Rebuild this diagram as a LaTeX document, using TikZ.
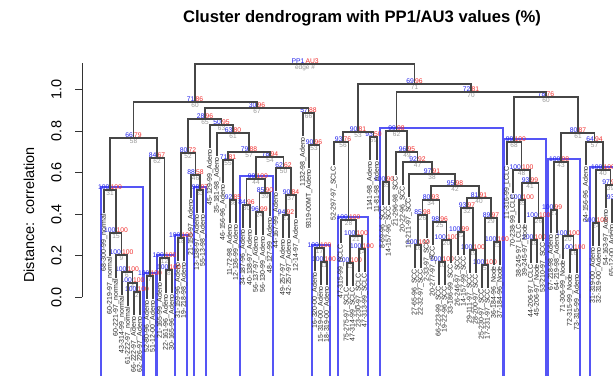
\documentclass[tikz,border=0pt]{standalone}
\usepackage{fontspec}
\setmainfont{Liberation Sans}
\definecolor{pvblue}{RGB}{85,85,245}
\definecolor{ppblue}{RGB}{30,30,235}
\definecolor{aured}{RGB}{240,45,45}
\definecolor{edgegray}{RGB}{150,150,150}
\definecolor{branchgray}{RGB}{70,70,70}
\tikzset{
  branch/.style={draw=branchgray, line width=1.1bp},
  pvbox/.style={draw=pvblue, line width=1.2bp},
  ppnum/.style={text=ppblue, font=\fontsize{6.8}{7}\selectfont, inner sep=0.3bp, anchor=south east},
  aunum/.style={text=aured, font=\fontsize{6.8}{7}\selectfont, inner sep=0.3bp, anchor=south west},
  edgenum/.style={text=edgegray, font=\fontsize{6.5}{7}\selectfont, inner sep=0.6bp, anchor=north},
  leaflabel/.style={rotate=90, anchor=east, inner sep=1bp, text=black!85, font=\fontsize{7}{7}\selectfont},
  ticklabel/.style={rotate=90, anchor=south, inner sep=0pt, font=\fontsize{14.5}{15}\selectfont},
}
\begin{document}
\begin{tikzpicture}[x=1bp, y=-1bp]
\clip (0,0) rectangle (613,375);

\node[font=\bfseries\fontsize{16.7}{17}\selectfont] (title) at (362,18) {Cluster dendrogram with PP1/AU3 values (\%)};

% axis, distance 0.0 at y=297, 1.0 at y=89.5
\draw[black!80, line width=0.8bp] (82,297) -- (82,63);
\foreach \v/\t in {297/0.0, 255.5/0.2, 214/0.4, 172.5/0.6, 131/0.8, 89.5/1.0}
  \draw[black!80, line width=0.8bp] (82,\v) -- (75,\v) node[ticklabel, black] at (62,\v) {\t};
\node[rotate=90, font=\fontsize{14.5}{15}\selectfont] (ylab) at (29,215) {Distance:\ \ correlation};

% clusters with high values
\foreach \xa/\xb/\yt in {101/143/187, 144/156/273, 157/175/255, 175/187/235, 194/206/187,
    240/273/176, 312/330/245, 338/368/217, 380/503/128, 504/546/139, 548/580/159, 590/640/167}
  \draw[pvbox] (\xa,\yt) rectangle (\xb,400);

% merge points: name/x/y/pp/au/edge
\foreach \n/\x/\y/\p/\a/\e in {root/305/64/PP1/AU3/edge \#,
    L1/195/102/71/86/60, A/133.5/138/66/79/58, A1/110/190/100/100/31,
    n2/116/233/100/100/15, n3/121.5/255/100/100/9, n4/127/272/100/100/6,
    n5/132.5/283/100/100/4, n6/137/292/100/100/2, A2/157/158/84/67/62,
    A2a/150/276/100/100/7, A2b/164.5/258/100/100/12, A2c/169/270/100/100/8,
    B/257/108/30/96/67, B1/205/119/28/96/65, B1a/188/153/80/72/52,
    B1aL/181/238/100/100/18, B1aR/195.5/175/88/58/46, B1aR2/200/190/98/97/33,
    B1b/221.5/125/50/95/63, X/233/133/63/80/61, Y/249/152/79/88/57,
    YL/228/160/71/81/55, YL2/233/200/92/85/36, YR/270/157/78/94/54,
    YRa/256/179/99/100/44, YRa1/246.5/205/84/96/30, YRa2/265/193/85/90/39,
    YRa3/259.5/212/96/99/24, YRb/283.5/168/62/62/50, YRb1/291/195/90/84/37,
    YRb2/286/215/94/92/27, B2/308.5/113/57/88/66, B2r/314/145/90/96/53,
    B2s/319.5/248/100/100/17, B2t/324/262/100/100/11,
    R1/414.5/84/69/96/71, C/358/132/90/81/53, CL/343/142/93/76/56,
    CL2/348.5/220/100/100/28, CL3/356/236/100/100/21, CL4/350/263/100/100/13,
    CL5/362/249/100/100/14, CR/373.5/137/93/50/59,
    R2/471/92/72/81/70, D/396.5/131/99/98/62, DL/386/182/100/90/35,
    DR/407/152/96/95/49, DR1/417.5/162/92/92/47, DR2/432/174/97/91/38,
    DR3/455/186/95/98/42, DR4/431/200/80/93/34, DR4a/422.5/215/85/98/26,
    DR4a1/418/245/100/100/16, DR4b/439.75/222/98/96/25, DR4b1/446.5/240/100/100/20,
    DR4b2/442/262/100/100/10, DR5/479/198/81/91/40, DR5a/467/208/93/97/32,
    DR5a1/461/232/100/99/22, DR5a2/473/250/100/100/19, DR5b/491/218/89/97/29,
    DR5b1/485/265/100/100/5, DR5b2/497/242/100/100/23,
    E/546/97/78/76/60, EL/514/142/99/100/68, EL2/521.5/170/100/100/48,
    EL3/530/183/93/99/41, EL3a/522/200/100/100/35, EL3b/538.5/218/100/100/26,
    EL3c/534/240/100/100/18, ER/578/133/80/87/61, ER1/561/162/100/98/43,
    ER1a/554/210/100/99/27, ER1b/568/236/100/100/20, ER1c/573.5/250/100/100/16,
    ER2/594.5/142/64/94/57, ER3/603/170/100/100/40, ER3a/596/223/100/100/24,
    ER3b/610.5/185/97/92/39, ER3c/615/200/93/92/34}
{
  \coordinate (\n) at (\x,\y);
  \node[ppnum] (\n-pp) at (\n) {\p};
  \node[aunum] (\n-au) at (\n) {\a};
  \node[edgenum] (\n-ed) at (\n) {\e};
}

% leaves: x/top of leaf/label
\foreach \x/\y/\t [count=\i] in {104/213/68-300-99\_normal, 110/256/60-219-97\_normal,
    116/278/60-221-97\_normal, 122/295/43-314-99\_normal, 128/306/61-222-97\_normal,
    134/315/66-222-97\_Adeno, 140/315/62-226-97\_Adeno, 147/299/52-80-96\_Adeno,
    153/299/51-12-00\_Adeno, 160/281/21-165-99\_Adeno, 166/293/22-161-96\_Adeno,
    172/293/30-165-96\_Adeno, 178/261/31-159-96\_Adeno, 184/261/19-218-98\_Adeno,
    191/198/21-155-97\_Adeno, 197/213/13-138-97\_Adeno, 203/213/55-13-98\_Adeno,
    210/148/45-129-99\_Adeno, 217/156/35-181-98\_Adeno, 223/183/46-156-96\_Adeno,
    230/223/11-72-98\_Adeno, 236/223/12-136-99\_Adeno, 243/228/34-187-96\_Adeno,
    250/228/40-138-97\_Adeno, 256/235/56-137-97\_Adeno, 263/235/56-130-99\_Adeno,
    270/216/48-127-99\_Adeno, 276/191/44-167-99\_Adeno, 283/238/49-257-97\_Adeno,
    289/238/42-257-97\_Adeno, 296/218/12-14-97\_Adeno, 303/136/1132-98\_Adeno,
    309/168/9319-00MT\_Adeno, 315/271/16-320-00\_Adeno, 321/285/15-319-00\_Adeno,
    327/285/18-319-00\_Adeno, 334/165/52-297-97\_SCLC, 341/243/47-315-99\_SCLC,
    347/286/75-275-97\_SCLC, 353/286/47-314-99\_SCLC, 359/272/23-230-97\_SCLC,
    365/272/47-313-99\_SCLC, 370/160/1141-98\_Adeno, 377/160/11-81-98\_Adeno,
    383/205/8-69-96\_SCC, 389/205/14-157-96\_SCC, 396/175/21-296-98\_SCC,
    403/185/20-22-96\_SCC, 409/197/13-211-97\_SCC, 415/268/27-65-96\_SCC,
    421/268/22-32-97\_SCC, 427/238/2-33-97\_SCC, 433/245/20-277-97\_SCC,
    439/285/66-223-99\_SCC, 445/285/19-22-96\_SCC, 451/263/33-186-99\_SCC,
    458/255/26-246-97\_SCC, 464/255/14-157-99\_SCC, 470/273/29-111-97\_SCC,
    476/273/28-200-97\_SCC, 482/288/25-230-97\_SCC, 488/288/17-231-97\_SCC,
    494/265/36-184-96\_Node, 500/265/37-184-96\_Node, 507/165/11-316-99\_LCLC,
    513/193/70-238-99\_LCLC, 519/223/38-245-97\_LCLC, 525/223/39-245-97\_Node,
    531/263/44-206-97\_LCLC, 537/263/45-206-97\_Node, 543/241/53-210-97\_SCC,
    551/233/67-218-98\_Adeno, 557/233/64-219-98\_Adeno, 563/259/71-306-99\_Node,
    570/273/72-315-99\_Node, 577/273/73-315-99\_Adeno, 586/165/24-156-96\_Adeno,
    593/246/31-319-00\_Adeno, 599/246/32-319-00\_Adeno, 606/208/54-163-97\_Adeno,
    612/223/65-12-00\_Adeno, 618/223/69-11-00\_Adeno}
{
  \coordinate (lf\i) at (\x,\y);
  \node[leaflabel] (lb\i) at (lf\i) {\t};
}

% branches: parent/left/right
\foreach \p/\l/\r in {root/L1/R1, L1/A/B, A/A1/A2, A1/lf1/n2, n2/lf2/n3, n3/lf3/n4,
    n4/lf4/n5, n5/lf5/n6, n6/lf6/lf7, A2/A2a/A2b, A2a/lf8/lf9, A2b/lf10/A2c,
    A2c/lf11/lf12, B/B1/B2, B1/B1a/B1b, B1a/B1aL/B1aR, B1aL/lf13/lf14,
    B1aR/lf15/B1aR2, B1aR2/lf16/lf17, B1b/lf18/X, X/lf19/Y, Y/YL/YR,
    YL/lf20/YL2, YL2/lf21/lf22, YR/YRa/YRb, YRa/YRa1/YRa2, YRa1/lf23/lf24,
    YRa2/YRa3/lf27, YRa3/lf25/lf26, YRb/lf28/YRb1, YRb1/YRb2/lf31,
    YRb2/lf29/lf30, B2/lf32/B2r, B2r/lf33/B2s, B2s/lf34/B2t, B2t/lf35/lf36,
    R1/C/R2, C/CL/CR, CL/lf37/CL2, CL2/lf38/CL3, CL3/CL4/CL5, CL4/lf39/lf40,
    CL5/lf41/lf42, CR/lf43/lf44, R2/D/E, D/DL/DR, DL/lf45/lf46, DR/lf47/DR1,
    DR1/lf48/DR2, DR2/lf49/DR3, DR3/DR4/DR5, DR4/DR4a/DR4b, DR4a/DR4a1/lf52,
    DR4a1/lf50/lf51, DR4b/lf53/DR4b1, DR4b1/DR4b2/lf56, DR4b2/lf54/lf55,
    DR5/DR5a/DR5b, DR5a/DR5a1/DR5a2, DR5a1/lf57/lf58, DR5a2/lf59/lf60,
    DR5b/DR5b1/DR5b2, DR5b1/lf61/lf62, DR5b2/lf63/lf64, E/EL/ER, EL/lf65/EL2,
    EL2/lf66/EL3, EL3/EL3a/EL3b, EL3a/lf67/lf68, EL3b/EL3c/lf71, EL3c/lf69/lf70,
    ER/ER1/ER2, ER1/ER1a/ER1b, ER1a/lf72/lf73, ER1b/lf74/ER1c, ER1c/lf75/lf76,
    ER2/lf77/ER3, ER3/ER3a/ER3b, ER3a/lf78/lf79, ER3b/lf80/ER3c, ER3c/lf81/lf82}
  \draw[branch] (\l) |- (\p) -| (\r);
\end{tikzpicture}
\end{document}
